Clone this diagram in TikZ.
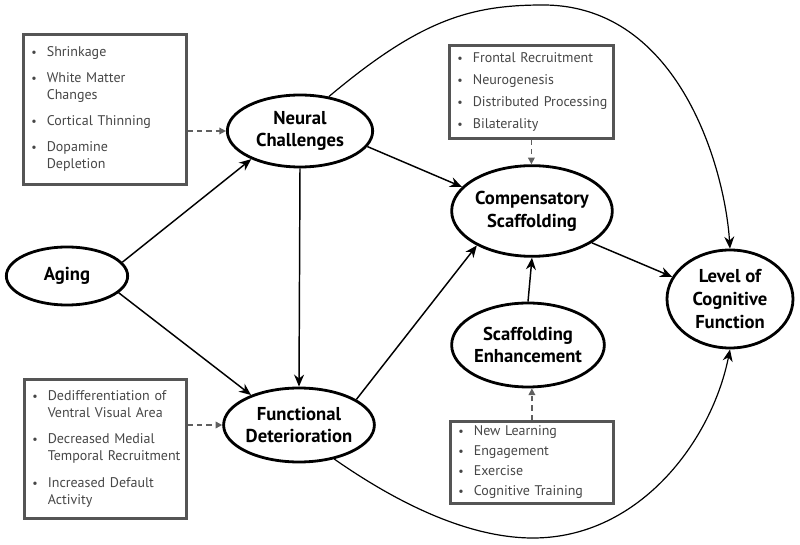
\documentclass[tikz,border=0pt]{standalone}
\usepackage{fontspec}
\setmainfont{PT Sans}
\usetikzlibrary{shapes.geometric,arrows.meta}

\tikzset{every picture/.style={line width=0.75pt}}
\tikzset{
  oval/.style={ellipse, draw, line width=2.1pt, inner sep=0pt, align=center, font=\fontsize{14}{17}\selectfont\bfseries},
  listbox/.style={draw={rgb, 255:red, 85; green, 85; blue, 85}, line width=2.1pt, anchor=north west, inner xsep=6pt, inner ysep=0pt, align=left, text={rgb, 255:red, 70; green, 70; blue, 70}, font=\fontsize{10.5}{12.75}\selectfont},
  link/.style={line width=1.1pt, -{Stealth[length=9pt,width=7.5pt]}},
  swoop/.style={line width=0.9pt, -{Stealth[length=9pt,width=7.5pt]}},
  hint/.style={draw={rgb, 255:red, 95; green, 95; blue, 95}, line width=1.1pt, dash pattern={on 4pt off 3pt}, -{Triangle[length=5pt,width=5pt]}},
}
\newcommand{\bl}{{\small\textbullet}}

\begin{document}
\begin{tikzpicture}[x=0.75pt,y=0.75pt,yscale=-1,xscale=1]
	\useasboundingbox (0,0) rectangle (800,545);
	
	%Shape: Ellipse
	\node [oval, minimum width=91pt, minimum height=43.5pt] (aging) at (67,276) {Aging};
	%Shape: Ellipse
	\node [oval, minimum width=109pt, minimum height=54pt] (neural) at (300,131) {Neural\\Challenges};
	%Shape: Ellipse
	\node [oval, minimum width=111pt, minimum height=55.5pt] (func) at (299,425) {Functional\\Deterioration};
	%Shape: Ellipse
	\node [oval, minimum width=114pt, minimum height=68pt] (comp) at (532,211) {Compensatory\\Scaffolding};
	%Shape: Ellipse
	\node [oval, minimum width=113pt, minimum height=63pt] (enh) at (528,345) {Scaffolding\\Enhancement};
	%Shape: Ellipse
	\node [oval, minimum width=94.5pt, minimum height=73.5pt] (level) at (730,299) {Level of\\Cognitive\\Function};
	
	% Text Node
	\node [listbox, text width=110.25pt, minimum height=112.5pt] (neurallist) at (22,33) {%
		\begin{tabular}{@{}l@{\hspace{7.5pt}}l@{}}
			\bl & Shrinkage\\[6.75pt]
			\bl & White Matter\\
			    & Changes\\[6.75pt]
			\bl & Cortical Thinning\\[6.75pt]
			\bl & Dopamine\\
			    & Depletion
		\end{tabular}};
	% Text Node
	\node [listbox, text width=111pt, minimum height=69.75pt] (complist) at (448,44) {%
		\begin{tabular}{@{}l@{\hspace{7.5pt}}l@{}}
			\bl & Frontal Recruitment\\[3.75pt]
			\bl & Neurogenesis\\[3.75pt]
			\bl & Distributed Processing\\[3.75pt]
			\bl & Bilaterality
		\end{tabular}};
	% Text Node
	\node [listbox, text width=109.5pt, minimum height=104.25pt] (funclist) at (23,378) {%
		\begin{tabular}{@{}l@{\hspace{7.5pt}}l@{}}
			\bl & Dedifferentiation of\\
			    & Ventral Visual Area\\[7pt]
			\bl & Decreased Medial\\
			    & Temporal Recruitment\\[7pt]
			\bl & Increased Default\\
			    & Activity
		\end{tabular}};
	% Text Node
	\node [listbox, text width=110.25pt, minimum height=61.5pt] (enhlist) at (449,420) {%
		\begin{tabular}{@{}l@{\hspace{7.5pt}}l@{}}
			\bl & New Learning\\[2.25pt]
			\bl & Engagement\\[2.25pt]
			\bl & Exercise\\[2.25pt]
			\bl & Cognitive Training
		\end{tabular}};
	
	%Straight Lines
	\draw [link] (aging.14) -- (neural.-150);
	\draw [link] (aging.-18) -- (func.148);
	\draw [link] (neural.south) -- (func.north);
	\draw [link] (neural.-13) -- (comp.161);
	\draw [link] (func.24) -- (comp.-148);
	\draw [link] (enh.north) -- (comp.south);
	\draw [link] (comp.-28) -- (level.159);
	
	%Curve Lines
	\draw [swoop] (neural.50) .. controls (420,20) and (470,5) .. (543,5) .. controls (680,5) and (725,170) .. (level.north);
	%Curve Lines
	\draw [swoop] (func.-44) .. controls (400,505) and (470,538) .. (533,538) .. controls (640,538) and (712,440) .. (level.south);
	
	%Dashed Lines
	\draw [hint] (neurallist.east |- neural.west) -- (neural.west);
	\draw [hint] (complist.south) -- (complist.south |- comp.north);
	\draw [hint] (funclist.east |- func.west) -- (func.west);
	\draw [hint] (enhlist.north) -- (enhlist.north |- enh.south);
	
\end{tikzpicture}
\end{document}
